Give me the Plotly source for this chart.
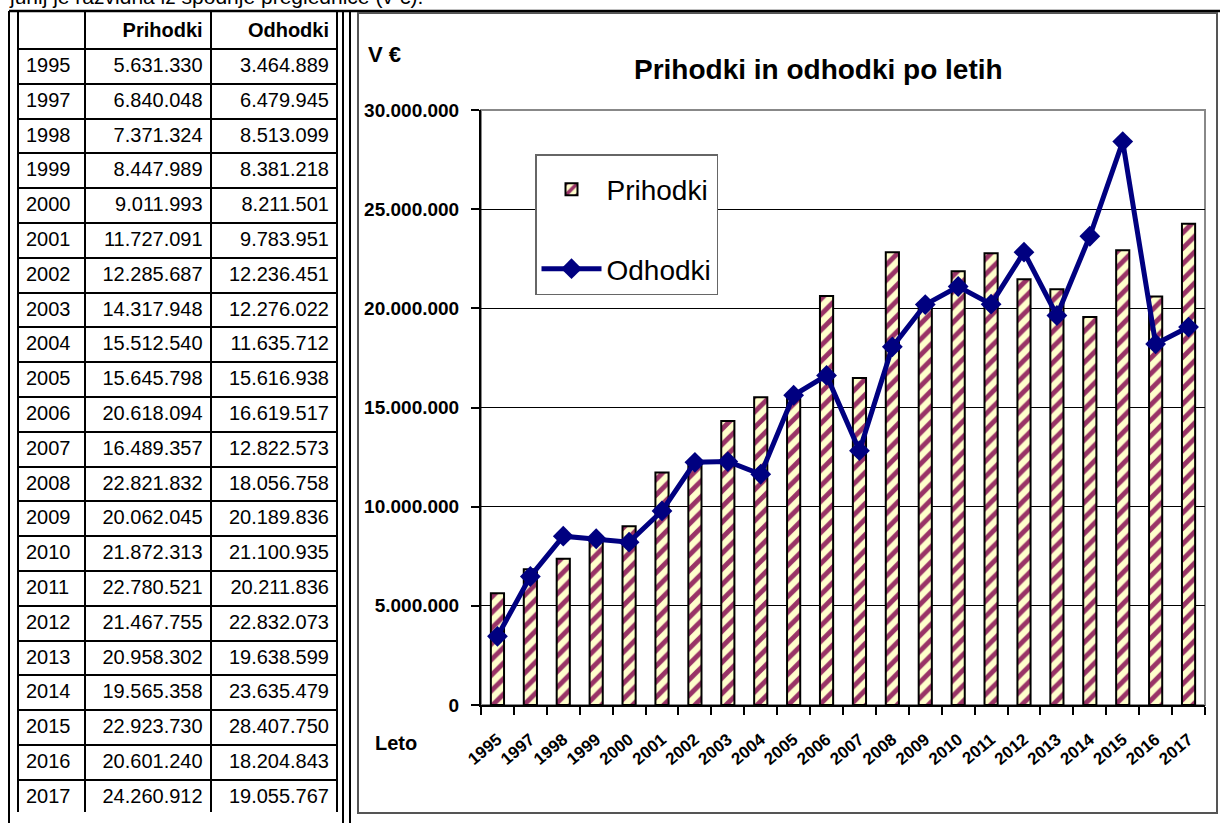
import plotly.graph_objects as go

years = ["1995", "1997", "1998", "1999", "2000", "2001", "2002", "2003", "2004", "2005", "2006",
         "2007", "2008", "2009", "2010", "2011", "2012", "2013", "2014", "2015", "2016", "2017"]
prihodki = [5631330, 6840048, 7371324, 8447989, 9011993, 11727091, 12285687, 14317948, 15512540,
            15645798, 20618094, 16489357, 22821832, 20062045, 21872313, 22780521, 21467755,
            20958302, 19565358, 22923730, 20601240, 24260912]
odhodki = [3464889, 6479945, 8513099, 8381218, 8211501, 9783951, 12236451, 12276022, 11635712,
           15616938, 16619517, 12822573, 18056758, 20189836, 21100935, 20211836, 22832073,
           19638599, 23635479, 28407750, 18204843, 19055767]
table_header = ["", "Prihodki", "Odhodki"]

W, H = 1220, 823
ARIAL = "Liberation Sans, Arial, sans-serif"


def px(x):
    return x / W


def py(y):
    return 1 - y / H


def fmt(v):
    return f"{v:,}".replace(",", ".")


fig = go.Figure()

# Table
fig.add_trace(go.Table(
    domain=dict(x=[px(18), px(337)], y=[py(813), py(11)]),
    columnwidth=[67, 125, 126],
    header=dict(values=[f"<b>{h}</b>" for h in table_header],
                align=["left", "right", "right"],
                font=dict(family=ARIAL, size=20, color="black"),
                line=dict(color="black", width=2),
                fill=dict(color="white"), height=36),
    cells=dict(values=[years, [fmt(v) for v in prihodki], [fmt(v) for v in odhodki]],
               align=["left", "right", "right"],
               font=dict(family=ARIAL, size=20, color="black"),
               line=dict(color="black", width=2),
               fill=dict(color="white"), height=34.8),
))

fig.add_trace(go.Bar(
    x=years, y=prihodki, name="Prihodki", legendgroup="a",
    marker=dict(color="#FFFFCC", line=dict(color="black", width=2),
                pattern=dict(shape="/", fgcolor="#993366", bgcolor="#FFFFCC",
                             fgopacity=1, size=11, solidity=0.45)),
    xaxis="x", yaxis="y",
))
fig.add_trace(go.Scatter(
    x=years, y=odhodki, name="Odhodki", legendgroup="b", mode="lines+markers",
    line=dict(color="#000080", width=5),
    marker=dict(symbol="diamond", size=16, color="#000080"),
    xaxis="x", yaxis="y",
))

fig.update_layout(
    width=W, height=H,
    margin=dict(l=0, r=0, t=0, b=0, autoexpand=False),
    paper_bgcolor="white", plot_bgcolor="white",
    separators=",.",
    bargap=0.6,
    showlegend=True,
    legend=dict(x=px(535), y=py(154), xanchor="left", yanchor="top",
                bgcolor="white", bordercolor="#666666", borderwidth=1.5,
                font=dict(family=ARIAL, size=28, color="black"),
                title=dict(text=" ", font=dict(size=7)),
                traceorder="grouped", tracegroupgap=40, itemwidth=60),
    xaxis=dict(domain=[px(481), px(1205)], type="category", automargin=False,
               range=[-0.5, len(years) - 0.5],
               showline=True, linecolor="black", linewidth=2,
               ticks="outside", ticklen=8, tickcolor="black", tickwidth=1.5,
               tickson="boundaries", tickangle=-40, ticklabelstandoff=16,
               tickfont=dict(family=ARIAL, size=17, color="black", weight="bold"),
               showgrid=False, anchor="y"),
    yaxis=dict(domain=[py(705), py(110)], range=[0, 30000000], dtick=5000000,
               tickformat=",d", automargin=False,
               showline=True, linecolor="black", linewidth=2,
               ticks="outside", ticklen=8, tickcolor="black", tickwidth=1.5,
               ticklabelstandoff=8,
               showgrid=True, gridcolor="black", gridwidth=1.2,
               tickfont=dict(family=ARIAL, size=19, color="black", weight="bold"),
               anchor="x", zeroline=False),
    shapes=[
        dict(type="line", xref="paper", yref="paper", x0=px(9), x1=1, y0=py(11), y1=py(11),
             line=dict(color="black", width=2.5)),
        dict(type="line", xref="paper", yref="paper", x0=px(9), x1=px(9), y0=0, y1=py(11),
             line=dict(color="black", width=2)),
        dict(type="line", xref="paper", yref="paper", x0=px(343), x1=px(343), y0=0, y1=py(11),
             line=dict(color="black", width=2)),
        dict(type="line", xref="paper", yref="paper", x0=px(350), x1=px(350), y0=0, y1=py(11),
             line=dict(color="black", width=2)),
        dict(type="rect", xref="paper", yref="paper", x0=px(358), x1=px(1217), y0=py(813), y1=py(13),
             line=dict(color="#555555", width=2)),
        dict(type="rect", xref="x domain", yref="y domain", x0=0, x1=1, y0=0, y1=1,
             line=dict(color="#888888", width=2), layer="below"),
    ],
    annotations=[
        dict(text="junij je razvidna iz spodnje preglednice (v €).", xref="paper", yref="paper",
             x=px(8), y=py(9), xanchor="left", yanchor="bottom", showarrow=False,
             font=dict(family=ARIAL, size=21, color="black"), borderpad=0),
        dict(text="<b>Prihodki in odhodki po letih</b>", xref="paper", yref="paper",
             x=px(818), y=py(70), xanchor="center", yanchor="middle", showarrow=False,
             font=dict(family=ARIAL, size=28, color="black")),
        dict(text="<b>V €</b>", xref="paper", yref="paper",
             x=px(366), y=py(54), xanchor="left", yanchor="middle", showarrow=False,
             font=dict(family=ARIAL, size=22, color="black")),
        dict(text="<b>Leto</b>", xref="paper", yref="paper",
             x=px(373), y=py(743), xanchor="left", yanchor="middle", showarrow=False,
             font=dict(family=ARIAL, size=20, color="black")),
    ],
)

fig.write_html("out.html", config={"displayModeBar": False},
               post_script="document.body.style.margin='0px';")
